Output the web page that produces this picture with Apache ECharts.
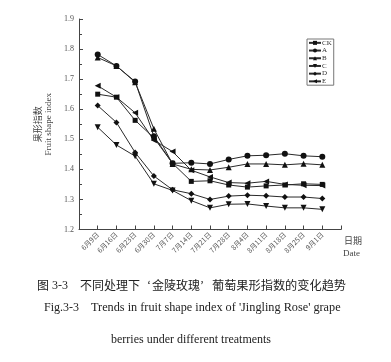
<!DOCTYPE html>
<html><head><meta charset="utf-8">
<script src="https://cdn.jsdelivr.net/npm/echarts@6/dist/echarts.min.js"></script>
<style>html,body{margin:0;padding:0;background:#fff}#c{width:391px;height:362px}</style>
</head><body><div id="c"></div>
<script>
const categories = ['6月9日','6月16日','6月23日','6月30日','7月7日','7月14日','7月21日','7月28日','8月4日','8月11日','8月18日','8月25日','9月1日'];
const seriesNames = ['CK','A','B','C','D','E'];
const CK = [1.650,1.640,1.563,1.505,1.420,1.360,1.362,1.348,1.341,1.345,1.348,1.352,1.350];
const A  = [1.782,1.744,1.692,1.510,1.420,1.422,1.418,1.433,1.445,1.447,1.452,1.445,1.442];
const B  = [1.772,1.744,1.690,1.535,1.418,1.400,1.398,1.407,1.418,1.418,1.415,1.419,1.415];
const C  = [1.540,1.481,1.444,1.352,1.330,1.296,1.272,1.284,1.285,1.278,1.272,1.272,1.267];
const D  = [1.612,1.556,1.456,1.378,1.332,1.319,1.300,1.311,1.314,1.312,1.308,1.308,1.303];
const E  = [1.678,1.640,1.588,1.497,1.459,1.397,1.375,1.356,1.354,1.360,1.350,1.347,1.346];
const yTicks = [1.2,1.3,1.4,1.5,1.6,1.7,1.8,1.9];

const values = [CK,A,B,C,D,E];
const symbols = ['rect','circle','triangle','triangle','diamond','triangle'];
const rotates = [0,0,0,180,0,90];
const sizes = [5,6,6,6,6,6];
const serif = '"Liberation Serif","Noto Sans CJK SC",serif';
const cjk = '"Noto Sans CJK SC",serif';
const ink = '#2a2a2a';

const chart = echarts.init(document.getElementById('c'), null, {renderer:'canvas'});
chart.setOption({
  animation:false,
  backgroundColor:'#fff',
  grid:{left:79, right:50, top:19, bottom:132.5},
  xAxis:{
    type:'value', min:0, max:categories.length+1, interval:1,
    axisLine:{lineStyle:{color:'#444',width:1}},
    axisTick:{inside:true,length:4,lineStyle:{color:'#444'}},
    splitLine:{show:false},
    axisLabel:{
      rotate:45, fontSize:7, color:'#555', margin:4,
      fontFamily:cjk,
      formatter:function(v){ return (v>=1 && v<=categories.length) ? categories[v-1] : ''; }
    }
  },
  yAxis:{
    type:'value', min:yTicks[0], max:yTicks[yTicks.length-1], interval:0.1,
    axisLine:{show:true,lineStyle:{color:'#444',width:1}},
    axisTick:{show:true,inside:true,length:4,lineStyle:{color:'#444'}},
    minorTick:{show:true,splitNumber:2,length:3,lineStyle:{color:'#444'}},
    splitLine:{show:false},
    axisLabel:{fontSize:8, color:'#555', margin:5, fontFamily:serif,
      formatter:function(v){ return v.toFixed(1); }},
    name:'果形指数\nFruit shape index',
    nameLocation:'middle', nameRotate:90, nameGap:15.5,
    nameTextStyle:{fontSize:9, color:'#444', fontFamily:serif, lineHeight:9.5}
  },
  legend:{
    orient:'vertical', left:307, top:39,
    data:seriesNames,
    itemWidth:12, itemHeight:5, itemGap:0,
    padding:[0,2,0,1],
    borderColor:'#777', borderWidth:1,
    textStyle:{fontSize:7, color:'#333', fontFamily:serif, lineHeight:7.7, padding:[0,0,0,-4]}
  },
  series: seriesNames.map(function(n,i){
    return {
      name:n, type:'line',
      data: values[i].map(function(v,k){ return [k+1, v]; }),
      symbol:symbols[i], symbolRotate:rotates[i], symbolSize:sizes[i],
      showAllSymbol:true,
      lineStyle:{color:ink,width:1},
      itemStyle:{color:'#111',borderWidth:0}
    };
  }),
  graphic:[
    {type:'text', left:344, top:236, style:{text:'日期', fontSize:9, fill:'#444', fontFamily:cjk}},
    {type:'text', left:343, top:249, style:{text:'Date', fontSize:9, fill:'#444', fontFamily:serif}},
    {type:'text', left:37, top:279.5, style:{text:'图', fontSize:12, fill:'#222', fontFamily:cjk}},
    {type:'text', left:52, top:279.5, style:{text:'3-3', fontSize:12, fill:'#222', fontFamily:serif}},
    {type:'text', left:80, top:279.5, style:{text:'不同处理下', fontSize:12, fill:'#222', fontFamily:cjk}},
    {type:'text', left:147, top:279.5, style:{text:'‘', fontSize:12, fill:'#222', fontFamily:serif}},
    {type:'text', left:152, top:279.5, style:{text:'金陵玫瑰', fontSize:12, fill:'#222', fontFamily:cjk}},
    {type:'text', left:200, top:279.5, style:{text:'’', fontSize:12, fill:'#222', fontFamily:serif}},
    {type:'text', left:212, top:279.5, style:{text:'葡萄果形指数的变化趋势', fontSize:12.2, fill:'#222', fontFamily:cjk}},
    {type:'text', left:44, top:302, style:{text:'Fig.3-3', fontSize:12, fill:'#222', fontFamily:serif}},
    {type:'text', left:91, top:302, style:{text:"Trends in fruit shape index of 'Jingling Rose' grape", fontSize:12.25, fill:'#222', fontFamily:serif}},
    {type:'text', left:111, top:334, style:{text:'berries under different treatments', fontSize:12, fill:'#222', fontFamily:serif}}
  ]
});
</script></body></html>
